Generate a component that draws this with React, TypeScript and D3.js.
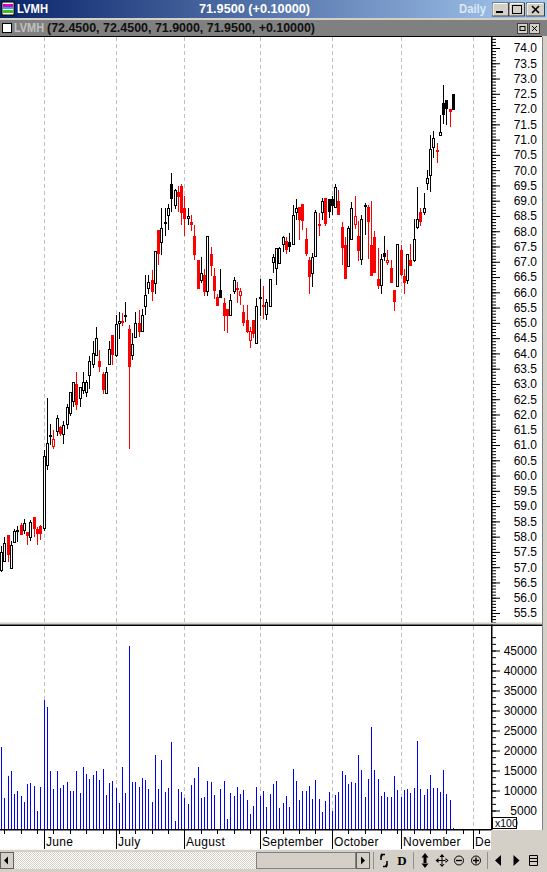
import React, { useEffect, useRef } from 'react'
import * as d3 from 'd3'

const opens = [
  56.92, 57.19, 58.05, 56.96, 57.81, 58.22, 58.38, 58.23, 58.15, 57.98, 58.63, 58.25, 58.34, 58.27, 60.36, 61.32, 60.97, 61.45, 61.58, 61.37,
  61.7, 62.05, 62.44, 62.99, 62.55, 62.8, 62.75, 63.29, 63.65, 63.96, 63.76, 63.31, 62.7, 63.66, 64.61, 63.96, 65.0, 65.05, 65.25, 64.81,
  63.96, 64.54, 65.0, 64.74, 65.55, 66.14, 66.41, 66.3, 68.05, 67.64, 68.29, 68.52, 69.56, 68.86, 69.29, 69.49, 68.77, 68.42, 68.31, 67.86,
  67.07, 66.41, 66.58, 66.04, 67.27, 66.55, 65.85, 66.06, 65.66, 65.47, 65.25, 66.05, 66.15, 65.91, 65.37, 65.1, 64.44, 65.11, 64.35, 65.85,
  65.6, 65.3, 65.55, 67.0, 66.8, 66.95, 67.58, 67.68, 67.65, 67.58, 68.63, 68.79, 68.89, 67.75, 67.07, 66.64, 67.19, 68.23, 68.62, 69.09,
  69.05, 69.05, 68.79, 68.99, 68.14, 67.55, 66.85, 67.75, 68.24, 67.86, 67.09, 68.86, 68.81, 67.56, 67.81, 66.42, 66.24, 67.29, 66.99, 66.81,
  66.06, 66.2, 67.4, 66.55, 66.41, 67.07, 67.05, 68.14, 68.63, 68.63, 69.58, 69.83, 70.75, 70.67, 71.15, 72.19, 72.29, 71.99, 72.48
]
const closes = [
  57.49, 57.78, 57.43, 57.73, 58.17, 58.22, 58.09, 58.45, 58.06, 58.47, 58.29, 58.11, 58.11, 60.65, 61.08, 61.32, 61.21, 61.87, 61.39, 61.67,
  62.23, 62.75, 63.07, 62.33, 62.91, 63.07, 63.07, 63.76, 64.02, 64.51, 63.59, 62.82, 63.4, 64.15, 63.98, 64.97, 65.07, 65.05, 65.25, 63.59,
  64.32, 65.0, 64.73, 65.26, 65.92, 66.34, 66.03, 67.36, 67.28, 68.11, 68.29, 68.76, 69.08, 69.35, 69.16, 68.62, 68.44, 68.51, 68.23, 67.27,
  66.14, 66.64, 66.05, 67.85, 66.91, 66.06, 65.57, 65.84, 65.27, 65.27, 65.76, 66.41, 66.15, 66.03, 65.02, 64.72, 64.72, 64.68, 65.56, 65.85,
  65.6, 65.69, 66.44, 67.16, 67.45, 67.45, 67.81, 67.42, 67.51, 68.53, 68.76, 68.4, 68.36, 67.29, 66.53, 67.16, 68.63, 68.23, 68.99, 68.26,
  68.66, 68.86, 69.45, 68.55, 67.47, 66.46, 68.11, 68.76, 68.5, 67.38, 68.4, 68.86, 68.32, 66.57, 66.66, 66.23, 67.09, 67.2, 67.06, 66.33,
  65.71, 67.58, 66.61, 66.33, 67.26, 66.9, 67.75, 68.4, 68.32, 68.76, 69.74, 70.69, 71.05, 70.67, 71.24, 71.85, 72.03, 71.93, 71.99
]
const highs = [
  57.7, 57.98, 58.05, 57.87, 58.25, 58.34, 58.45, 58.58, 58.15, 58.55, 58.63, 58.3, 58.38, 60.83, 62.55, 61.7, 61.48, 61.97, 61.62, 61.78,
  62.33, 62.75, 63.07, 63.4, 62.91, 63.4, 63.12, 63.93, 64.41, 64.87, 64.12, 63.4, 63.56, 64.41, 64.61, 65.27, 65.36, 65.31, 65.69, 64.92,
  64.67, 65.36, 65.41, 65.46, 66.56, 66.56, 66.73, 67.36, 68.05, 68.76, 68.76, 68.89, 69.9, 69.38, 69.49, 69.56, 69.16, 68.77, 68.53, 68.22,
  67.07, 67.16, 66.75, 67.85, 67.49, 66.8, 65.95, 66.75, 65.82, 65.47, 65.95, 66.51, 66.35, 66.15, 65.6, 65.57, 64.85, 65.11, 65.82, 66.44,
  66.22, 65.77, 66.44, 67.24, 67.45, 67.49, 67.86, 67.81, 67.94, 68.86, 69.05, 68.79, 68.89, 68.11, 67.16, 67.29, 68.68, 68.6, 69.09, 69.09,
  69.05, 69.14, 69.56, 69.36, 68.31, 67.81, 68.16, 68.96, 69.16, 68.33, 68.53, 68.92, 68.87, 68.98, 68.02, 67.46, 67.27, 67.86, 67.4, 67.07,
  66.06, 67.58, 67.56, 66.75, 67.26, 67.58, 68.4, 69.45, 68.76, 69.25, 70.01, 71.16, 71.29, 70.88, 71.81, 72.79, 72.29, 71.99, 72.48
]
const lows = [
  56.85, 57.19, 57.16, 56.96, 57.81, 57.81, 58.05, 58.09, 57.74, 57.85, 57.98, 57.74, 57.9, 58.17, 60.19, 61.0, 60.86, 61.3, 61.3, 61.04,
  61.52, 61.95, 62.25, 62.14, 62.25, 62.66, 62.57, 62.82, 63.53, 63.96, 63.39, 62.66, 62.67, 63.66, 63.62, 63.89, 64.46, 64.89, 65.02, 60.87,
  63.78, 64.54, 64.53, 64.74, 65.27, 65.95, 65.71, 65.94, 66.91, 67.21, 67.86, 68.03, 68.62, 68.73, 68.63, 68.22, 67.86, 68.22, 68.0, 67.07,
  66.14, 66.31, 65.87, 65.87, 66.55, 65.77, 65.57, 65.84, 64.72, 64.66, 65.25, 65.94, 65.66, 65.58, 64.89, 64.66, 64.17, 64.51, 64.35, 65.22,
  65.13, 65.09, 65.55, 66.64, 66.23, 66.95, 67.31, 67.25, 67.31, 67.58, 68.36, 67.7, 68.05, 67.18, 65.96, 66.17, 67.19, 67.83, 68.36, 68.16,
  68.43, 68.53, 68.79, 68.55, 66.91, 66.46, 66.85, 67.75, 68.07, 67.02, 66.88, 67.87, 67.09, 66.57, 66.66, 66.12, 65.94, 67.02, 66.88, 66.33,
  65.38, 66.2, 66.55, 65.93, 66.27, 66.88, 66.98, 68.07, 68.16, 68.52, 69.36, 69.27, 70.39, 70.25, 71.15, 71.5, 71.48, 71.4, 71.97
]
// sessions that closed below the day before, drawn red
const downDays = [
  2, 6, 8, 10, 11, 12, 16, 18, 23, 30, 31, 34, 37, 39, 42, 46, 48, 54, 55, 56, 58, 59, 60, 62, 64, 65, 66, 68, 69, 72, 73, 74, 75, 76, 77,
  80, 87, 91, 92, 93, 94, 97, 99, 103, 104, 105, 108, 109, 112, 113, 114, 115, 118, 119, 120, 122, 123, 125, 128, 133, 137
]
const volumes = [
  20800, 8100, 13600, 14800, 9100, 9800, 8600, 7100, 11600, 11800, 11100, 4800, 10800, 32600, 30800, 14800, 10300, 14800, 10600, 11300,
  12100, 9800, 9800, 14800, 9300, 15800, 14100, 12800, 13800, 14800, 12600, 15300, 8800, 11800, 12300, 10600, 6800, 15800, 9300, 46100,
  12100, 12100, 10800, 13100, 12600, 10300, 7100, 18800, 10300, 17600, 9600, 10600, 22100, 2300, 10300, 9600, 8100, 6600, 11300, 13100,
  15800, 8100, 8300, 12300, 12100, 8800, 0, 10300, 12300, 2800, 9300, 8600, 10800, 9100, 10100, 7600, 4100, 6100, 10800, 8600,
  9800, 5800, 9100, 11600, 12300, 5600, 6800, 8600, 5800, 15300, 12300, 7600, 9800, 9800, 11100, 7800, 12600, 7800, 4600, 7300,
  9600, 4800, 8800, 9600, 14800, 13800, 11600, 12100, 11800, 18800, 15100, 8300, 12800, 25800, 15100, 12800, 8600, 9600, 8300, 8300,
  13600, 10100, 8300, 10100, 10300, 9300, 10600, 22300, 10300, 8800, 10300, 13800, 10600, 10600, 9600, 15100, 9100, 7600, 750
]
const monthNames = ['June', 'July', 'August', 'September', 'October', 'November', 'De']
const monthStarts = [13, 35, 56, 79, 101, 122, 144]
const weekTicks = d3.range(1, 150, 5)

const W = 547
const H = 872
const plotRight = 491
const paneRight = 542
const priceTop = 37
const priceBottom = 623
const volTop = 626
const volBottom = 829
const uiFont = '"Liberation Sans", Arial, sans-serif'

const App = () => {
  const gRef = useRef<SVGGElement | null>(null)

  useEffect(() => {
    const g = d3.select(gRef.current)
    g.selectAll('*').remove()

    const xScale = d3.scaleLinear().domain([0, 138]).range([1.5, 453.5])
    const px = (i: number) => Math.floor(xScale(i)) + 0.5
    const yPrice = d3.scaleLinear().domain([74, 55.5]).range([48, 613])
    const yVol = d3.scaleLinear().domain([0, 45000]).range([830.5, 650.5])

    // month grid, both panes
    const grid = g.append('g')
    ;[[priceTop, priceBottom], [volTop, volBottom]].forEach(([a, b]) => {
      grid
        .selectAll(null)
        .data(monthStarts)
        .enter()
        .append('line')
        .attr('x1', d => px(d))
        .attr('x2', d => px(d))
        .attr('y1', a)
        .attr('y2', b)
        .attr('stroke', '#c0c0c0')
        .attr('stroke-dasharray', '4 3')
    })

    // candles
    const candles = g.append('g')
    const idx = d3.range(opens.length)
    const color = (i: number) => (downDays.includes(i) ? '#ff0000' : '#000000')
    candles
      .selectAll('line')
      .data(idx)
      .enter()
      .append('line')
      .attr('x1', d => px(d))
      .attr('x2', d => px(d))
      .attr('y1', d => Math.round(yPrice(highs[d])))
      .attr('y2', d => Math.round(yPrice(lows[d])))
      .attr('stroke', d => color(d))
    candles
      .selectAll('rect')
      .data(idx)
      .enter()
      .append('rect')
      .attr('x', d => px(d) - 1)
      .attr('width', 2)
      .attr('y', d => Math.round(yPrice(Math.max(opens[d], closes[d]))) + 0.5)
      .attr('height', d =>
        Math.max(1, Math.round(yPrice(Math.min(opens[d], closes[d]))) - Math.round(yPrice(Math.max(opens[d], closes[d]))))
      )
      .attr('fill', d => (closes[d] > opens[d] ? '#ffffff' : color(d)))
      .attr('stroke', d => color(d))

    // volume
    g.append('g')
      .selectAll('line')
      .data(idx)
      .enter()
      .append('line')
      .attr('x1', d => px(d))
      .attr('x2', d => px(d))
      .attr('y1', d => Math.round(yVol(volumes[d])))
      .attr('y2', volBottom)
      .attr('stroke', '#0000ff')

    // right axes: one for the minor ticks, one with the labels
    const styleAxis = (sel: any) => {
      sel.select('.domain').remove()
      sel.selectAll('line').attr('stroke', '#000')
    }
    const labelAxis = (sel: any) => {
      styleAxis(sel)
      sel
        .selectAll('text')
        .attr('x', 46)
        .attr('text-anchor', 'end')
        .attr('font-family', uiFont)
        .attr('font-size', 12)
        .attr('fill', '#000')
    }
    const priceMinor = d3.range(55.0, 74.4, 0.1).filter(v => yPrice(v) > priceTop && yPrice(v) < priceBottom)
    g.append('g')
      .attr('transform', `translate(${plotRight},0)`)
      .call(d3.axisRight(yPrice).tickValues(priceMinor).tickSize(5).tickFormat(() => '') as any)
      .call(styleAxis)
    g.append('g')
      .attr('transform', `translate(${plotRight},0)`)
      .call(d3.axisRight(yPrice).tickValues(d3.range(55.5, 74.5, 0.5)).tickSize(9).tickFormat(d3.format('.1f') as any) as any)
      .call(labelAxis)
    const volMinor = d3.range(5000 / 3, 50000, 5000 / 3).filter(v => yVol(v) > volTop && yVol(v) < 817)
    g.append('g')
      .attr('transform', `translate(${plotRight},0)`)
      .call(d3.axisRight(yVol).tickValues(volMinor).tickSize(5).tickFormat(() => '') as any)
      .call(styleAxis)
    g.append('g')
      .attr('transform', `translate(${plotRight},0)`)
      .call(d3.axisRight(yVol).tickValues(d3.range(5000, 50000, 5000)).tickSize(9).tickFormat(d3.format('d') as any) as any)
      .call(labelAxis)

    // date axis
    const dates = g.append('g')
    dates
      .selectAll('line.week')
      .data(weekTicks)
      .enter()
      .append('line')
      .attr('class', 'week')
      .attr('x1', d => px(d))
      .attr('x2', d => px(d))
      .attr('y1', volBottom)
      .attr('y2', volBottom + 5)
      .attr('stroke', '#000')
    dates
      .selectAll('line.month')
      .data(monthStarts)
      .enter()
      .append('line')
      .attr('class', 'month')
      .attr('x1', d => px(d))
      .attr('x2', d => px(d))
      .attr('y1', volBottom)
      .attr('y2', 849)
      .attr('stroke', '#000')
    dates
      .selectAll('text')
      .data(monthNames)
      .enter()
      .append('text')
      .text(d => d)
      .attr('x', (_, i) => px(monthStarts[i]) + 1.5)
      .attr('y', 846)
      .attr('font-family', uiFont)
      .attr('font-size', 12)
      .attr('letter-spacing', 0.3)
      .attr('fill', '#000')
  }, [])

  const bold = { fontFamily: uiFont, fontWeight: 700, fontSize: 12 } as const
  const winBtn = (x: number, w: number, glyph: React.ReactNode) => (
    <g key={x}>
      <rect x={x} y={3} width={w} height={13} fill="#d4d0c8" stroke="#404040" />
      <path d={`M${x + 0.5} 15.5V3.5H${x + w - 1}`} stroke="#fff" fill="none" />
      {glyph}
    </g>
  )

  return (
    <svg width={W} height={H} style={{ position: 'fixed', left: 0, top: 0, display: 'block' }}>
      <defs>
        <linearGradient id="titleGrad" x1="0" x2="1" y1="0" y2="0">
          <stop offset="0" stopColor="#0a246a" />
          <stop offset="1" stopColor="#a6caf0" />
        </linearGradient>
        <pattern id="hatch" width="2" height="2" patternUnits="userSpaceOnUse">
          <rect width="2" height="2" fill="#ffffff" />
          <rect width="1" height="1" fill="#d4d0c8" />
          <rect x="1" y="1" width="1" height="1" fill="#d4d0c8" />
        </pattern>
      </defs>
      <rect width={W} height={H} fill="#d4d0c8" />

      {/* app title bar */}
      <rect x={0} y={0} width={W} height={18} fill="url(#titleGrad)" />
      <rect x={2} y={2} width={12} height={13} fill="#fff" stroke="#000" />
      <rect x={3} y={4} width={10} height={3} fill="#e000c0" />
      <rect x={3} y={7} width={10} height={2} fill="#20b0e0" />
      <rect x={3} y={10} width={10} height={3} fill="#40c020" />
      <text x={17} y={13} fill="#fff" style={bold} textLength={31} lengthAdjust="spacingAndGlyphs">LVMH</text>
      <text x={199} y={13} fill="#fff" style={bold} textLength={111} lengthAdjust="spacingAndGlyphs">71.9500 (+0.10000)</text>
      <text x={459} y={13} fill="#dce8f4" style={bold} textLength={27} lengthAdjust="spacingAndGlyphs">Daily</text>
      {winBtn(492.5, 16, <rect x={496} y={11} width={7} height={2} fill="#000" />)}
      {winBtn(509.5, 15, <rect x={512.5} y={5.5} width={9} height={8} fill="none" stroke="#000" />)}
      {winBtn(526.5, 18, <path d="M532 6l7 7M539 6l-7 7" stroke="#000" strokeWidth={1.6} />)}

      {/* chart window title */}
      <rect x={0} y={20} width={W} height={16} fill="#808080" />
      <rect x={2.5} y={23.5} width={9} height={9} fill="#fff" stroke="#000" />
      <text x={14} y={32} fill="#c0c0c0" style={bold} textLength={30} lengthAdjust="spacingAndGlyphs">LVMH</text>
      <text x={47} y={32} fill="#101010" style={bold} textLength={268} lengthAdjust="spacingAndGlyphs">(72.4500, 72.4500, 71.9000, 71.9500, +0.10000)</text>
      <rect x={517.5} y={23.5} width={10} height={10} fill="#d4d0c8" stroke="#404040" />
      <rect x={520} y={26.5} width={5} height={4} fill="none" stroke="#000" />
      <rect x={529.5} y={23.5} width={10} height={10} fill="#d4d0c8" stroke="#404040" />
      <path d="M532 26l5 5M537 26l-5 5" stroke="#000" />

      {/* panes */}
      <rect x={0} y={priceTop} width={paneRight} height={volBottom - priceTop + 1} fill="#fff" />
      <rect x={0} y={volBottom} width={plotRight} height={20} fill="#fff" />
      <rect x={0} y={36} width={paneRight} height={1} fill="#000" />

      <g ref={gRef} />

      <rect x={plotRight} y={37} width={1.5} height={volBottom - 36} fill="#000" />
      <rect x={0} y={622.5} width={paneRight} height={2} fill="#d4d0c8" />
      <rect x={0} y={624.5} width={paneRight} height={1.5} fill="#000" />
      <rect x={paneRight} y={37} width={1} height={793} fill="#808080" />
      <rect x={0} y={volBottom} width={plotRight} height={1.5} fill="#000" />
      <rect x={plotRight} y={830} width={W - plotRight} height={42} fill="#d4d0c8" />
      <rect x={0} y={849} width={plotRight} height={1} fill="#f4f4f4" />
      <rect x={492.5} y={817.5} width={24} height={11} fill="#fff" stroke="#000" />
      <text x={495} y={827} fontFamily={uiFont} fontSize={10.5} fill="#000">x100</text>

      {/* scroll bar and toolbar */}
      <rect x={0} y={852} width={370} height={17} fill="url(#hatch)" />
      <rect x={0.5} y={852.5} width={13} height={16} fill="#d4d0c8" stroke="#606060" />
      <path d="M4 860.5l4-4v8z" fill="#000" />
      <rect x={256.5} y={852.5} width={99} height={16} fill="#d4d0c8" stroke="#808080" />
      <rect x={356.5} y={852.5} width={13} height={16} fill="#d4d0c8" stroke="#606060" />
      <path d="M361 856.5l4 4-4 4z" fill="#000" />
      <path d="M373.5 852v17M413.5 852v17M487.5 852v17" stroke="#909090" />
      <path d="M385 854.5h-2.5a1.5 1.5 0 0 0-1.5 1.5v4M383 866.5h2.5a1.5 1.5 0 0 0 1.5-1.5v-4" fill="none" stroke="#000" strokeWidth={1.5} />
      <path d="M381 853l2 2.5-2 2.5zM387 868l-2-2.5 2-2.5z" fill="#000" />
      <text x={402} y={865} textAnchor="middle" fontFamily='"Liberation Serif", serif' fontWeight={700} fontSize={13}>D</text>
      <path d="M425 853l3.5 4.5h-7zM425 868l3.5-4.5h-7zM423.5 857h3v7h-3z" fill="#000" />
      <path d="M442 854l2.5 3h-5zM442 867l2.5-3h-5zM435.5 860.5l3-2.5v5zM448.5 860.5l-3-2.5v5zM437 860h10v1h-10zM441.5 856h1v9h-1z" fill="#000" />
      <circle cx={459} cy={860.5} r={4.5} fill="none" stroke="#000" />
      <path d="M456 860.5h6" stroke="#000" strokeWidth={1.4} />
      <circle cx={476} cy={860.5} r={4.5} fill="none" stroke="#000" />
      <path d="M473 860.5h6M476 857.5v6" stroke="#000" strokeWidth={1.4} />
      <path d="M495 860.5l6-5.5v11z" fill="#000" />
      <path d="M519.5 860.5l-6-5.5v11z" fill="#000" />
      <path d="M529.5 855.5h8v10h-8zM529.5 858.5h8M529.5 861.5h8" fill="none" stroke="#000" />
    </svg>
  )
}

export default App
